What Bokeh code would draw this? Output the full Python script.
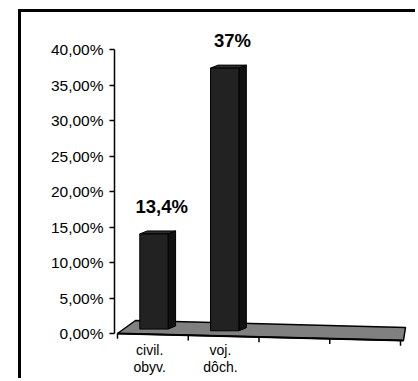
from bokeh.plotting import figure
from bokeh.models import Range1d, FixedTicker
from bokeh.core.properties import value
from bokeh.embed import file_html
from bokeh.resources import INLINE

# ---------------- data ----------------
categories = ["civil.\nobyv.", "voj.\ndôch."]
values = [13.4, 37.0]
value_labels = ["13,4%", "37%"]
n_slots = 4
y_ticks = [0, 5, 10, 15, 20, 25, 30, 35, 40]
y_tick_labels = ["0,00%", "5,00%", "10,00%", "15,00%", "20,00%",
                 "25,00%", "30,00%", "35,00%", "40,00%"]

# ---------------- style / geometry ----------------
MARGIN_L, MARGIN_T, BORDER = 18, 9, 3
OFF_X, OFF_Y = MARGIN_L + BORDER, MARGIN_T + BORDER   # canvas origin on page
W, H = 418 - OFF_X, 381 - OFF_Y
PX_X = 70.75          # pixels per category slot
PX_Y = 7.1            # pixels per percent
ORIG_X, ORIG_Y = 117 - OFF_X, 333 - OFF_Y   # canvas pixel of (0, 0%)
FL, FT = 114 - OFF_X, 30 - OFF_Y            # frame left / top (canvas px)
FONT = "Liberation Sans"

x_start = (FL - ORIG_X) / PX_X
x_end = (W - ORIG_X) / PX_X
y_end = (ORIG_Y - FT) / PX_Y
y_start = -(H - ORIG_Y) / PX_Y

front_slope = -0.244          # floor front edge descends (perspective)
floor_back_left = (0.254, 1.831)
floor_back_right = (n_slots + 0.071, 0.845)
floor_front_right = (n_slots + 0.042, front_slope * (n_slots + 0.042))

bar_shift = 0.015
bar_half = 0.2
bar_lift = 0.75
side_dx, side_dy = 0.106, 0.42
label_dx, label_dy = 0.11, 3.9
cat_shift, cat_y = -0.045, -1.25


def front_y(x):
    return front_slope * x


p = figure(width=W, height=H, output_backend="svg", toolbar_location=None,
           x_range=Range1d(x_start, x_end), y_range=Range1d(y_start, y_end),
           x_axis_location=None, min_border_left=FL, min_border_top=FT,
           min_border_right=0, min_border_bottom=0)
p.margin = (MARGIN_T, 0, 0, MARGIN_L)
p.styles = {"border-left": f"{BORDER}px solid black",
            "border-top": f"{BORDER}px solid black"}
p.grid.visible = False
p.outline_line_color = None
p.background_fill_color = "white"
p.border_fill_color = "white"

# ---- y axis ----
ax = p.yaxis[0]
ax.ticker = FixedTicker(ticks=y_ticks)
ax.major_label_overrides = {t: l for t, l in zip(y_ticks, y_tick_labels)}
ax.bounds = (0, 40)
ax.axis_line_width = 1.5
ax.axis_line_color = "black"
ax.major_tick_line_width = 1.5
ax.major_tick_line_color = "black"
ax.major_tick_out = 5
ax.major_tick_in = 0
ax.minor_tick_out = 0
ax.minor_tick_in = 0
ax.major_label_standoff = 6
ax.major_label_text_font = FONT
ax.major_label_text_font_size = "15.5px"
ax.major_label_text_color = "black"

# ---- floor ----
p.patch([0, floor_front_right[0], floor_back_right[0], floor_back_left[0]],
        [0, floor_front_right[1], floor_back_right[1], floor_back_left[1]],
        fill_color="#808080", line_color="black", line_width=1.5)
p.line([0, floor_front_right[0]], [0, floor_front_right[1]],
       line_color="black", line_width=2)

# ---- category ticks on the floor front edge ----
tx = list(range(n_slots + 1))
p.segment(x0=tx, y0=[front_y(x) for x in tx], x1=tx,
          y1=[front_y(x) - 0.75 for x in tx], line_color="black", line_width=1.5)

# ---- 3D bars ----
front_xs, front_ys, side_xs, side_ys, top_xs, top_ys = [], [], [], [], [], []
lab_x, lab_y = [], []
for i, v in enumerate(values):
    c = i + 0.5 + bar_shift
    base = front_y(c) + bar_lift
    top = base + v
    l, r = c - bar_half, c + bar_half
    front_xs.append([l, r, r, l])
    front_ys.append([base, base, top, top])
    side_xs.append([r, r + side_dx, r + side_dx, r])
    side_ys.append([base, base + side_dy, top + side_dy, top])
    top_xs.append([l, l + side_dx, r + side_dx, r])
    top_ys.append([top, top + side_dy, top + side_dy, top])
    lab_x.append(c + label_dx)
    lab_y.append(top + label_dy)

p.patches(side_xs, side_ys, fill_color="#111111", line_color="black", line_width=1)
p.patches(top_xs, top_ys, fill_color="#2e2e2e", line_color="black", line_width=1)
p.patches(front_xs, front_ys, fill_color="#222222", line_color="black", line_width=1)

# ---- value labels ----
p.text(x=lab_x, y=lab_y, text=value_labels, text_font=value(FONT),
       text_font_style="bold", text_font_size="18.5px", text_align="center",
       text_baseline="middle", text_color="black")

# ---- category labels ----
p.text(x=[i + 0.5 + cat_shift for i in range(len(categories))],
       y=[cat_y] * len(categories), text=categories, text_font=value(FONT),
       text_font_size="14px", text_align="center", text_baseline="top",
       text_line_height=1.07, text_color="black")

open("out.html", "w").write(file_html(p, INLINE))
